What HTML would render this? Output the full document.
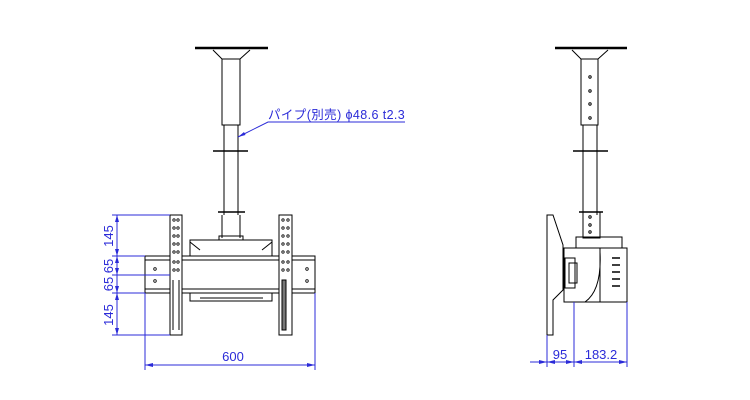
<!DOCTYPE html>
<html><head><meta charset="utf-8"><style>
html,body{margin:0;padding:0;background:#fff}
svg{display:block}
text{font-family:"Liberation Sans","Noto Sans CJK JP",sans-serif;fill:#2b2bd8}
</style></head><body>
<svg width="750" height="400" viewBox="0 0 750 400" xmlns="http://www.w3.org/2000/svg">
<g stroke="#000" fill="none" stroke-width="1">
<line x1="195" y1="48" x2="268" y2="48" stroke-width="2.5"/>
<path d="M213 50 L222 59 L240 59 L250 50" />
<rect x="222" y="59" width="18" height="66" fill="#fff"/>
<line x1="224" y1="125" x2="224" y2="215"/><line x1="238" y1="125" x2="238" y2="215"/>
<line x1="213" y1="151" x2="248" y2="151" stroke-width="1.5"/>
<line x1="218" y1="212" x2="245" y2="212" stroke-width="1.5"/>
<rect x="219" y="236" width="24" height="4"/>
<line x1="222" y1="215" x2="222" y2="238"/><line x1="240" y1="215" x2="240" y2="238"/>
<path d="M190 256 L190 240 L272 240 L272 256"/>
<path d="M190 242 L200 250 M272 242 L262 250"/>
<rect x="145" y="256" width="170" height="37" fill="#fff"/>
<line x1="145" y1="260" x2="315" y2="260"/><line x1="145" y1="289" x2="315" y2="289"/>
<rect x="190" y="293" width="82" height="8"/>
<line x1="200" y1="298" x2="263" y2="298"/>
<rect x="170" y="215" width="12" height="120" fill="#fff"/>
<rect x="279" y="215" width="13" height="120" fill="#fff"/>
<line x1="173" y1="280" x2="173" y2="330"/><line x1="179" y1="280" x2="179" y2="330"/>
<rect x="282" y="280" width="4" height="50" fill="#777"/>
<g stroke-width="0.8">
<circle cx="174" cy="220" r="1.2"/><circle cx="178" cy="220" r="1.2"/>
<circle cx="174" cy="228" r="1.2"/><circle cx="178" cy="228" r="1.2"/>
<circle cx="174" cy="236" r="1.2"/><circle cx="178" cy="236" r="1.2"/>
<circle cx="174" cy="244" r="1.2"/><circle cx="178" cy="244" r="1.2"/>
<circle cx="174" cy="252" r="1.2"/><circle cx="178" cy="252" r="1.2"/>
<circle cx="174" cy="262" r="1.2"/><circle cx="178" cy="262" r="1.2"/>
<circle cx="174" cy="270" r="1.2"/><circle cx="178" cy="270" r="1.2"/>
<circle cx="283" cy="220" r="1.2"/><circle cx="288" cy="220" r="1.2"/>
<circle cx="283" cy="228" r="1.2"/><circle cx="288" cy="228" r="1.2"/>
<circle cx="283" cy="236" r="1.2"/><circle cx="288" cy="236" r="1.2"/>
<circle cx="283" cy="244" r="1.2"/><circle cx="288" cy="244" r="1.2"/>
<circle cx="283" cy="252" r="1.2"/><circle cx="288" cy="252" r="1.2"/>
<circle cx="283" cy="262" r="1.2"/><circle cx="288" cy="262" r="1.2"/>
<circle cx="283" cy="270" r="1.2"/><circle cx="288" cy="270" r="1.2"/>
<circle cx="155" cy="269" r="1.3"/><circle cx="155" cy="281" r="1.3"/>
<circle cx="307" cy="269" r="1.3"/><circle cx="307" cy="281" r="1.3"/>
</g>
<line x1="555" y1="48" x2="627" y2="48" stroke-width="2.5"/>
<path d="M572 50 L581 59 L598 59 L608 50"/>
<rect x="581" y="59" width="17" height="66" fill="#fff"/>
<circle cx="590" cy="77" r="1.2"/><circle cx="590" cy="91" r="1.2"/><circle cx="590" cy="104" r="1.2"/><circle cx="590" cy="118" r="1.2"/>
<line x1="583" y1="125" x2="583" y2="215"/><line x1="597" y1="125" x2="597" y2="215"/>
<line x1="573" y1="151" x2="608" y2="151" stroke-width="1.5"/>
<line x1="579" y1="212" x2="603" y2="212" stroke-width="1.5"/>
<rect x="583" y="212" width="17" height="26"/>
<circle cx="590" cy="217" r="1.2"/><circle cx="590" cy="225" r="1.2"/><circle cx="590" cy="232" r="1.2"/>
<rect x="576" y="237" width="46" height="11"/>
<path d="M564 248 L627 248 L627 302 L564 302 Z" fill="#fff"/>
<path d="M600 248 L600 252 L600 302 M600 252 Q602 290 585 302"/>
<g stroke-width="1.5"><line x1="612" y1="258" x2="620" y2="258"/><line x1="612" y1="265" x2="620" y2="265"/><line x1="612" y1="272" x2="620" y2="272"/><line x1="612" y1="279" x2="620" y2="279"/><line x1="612" y1="286" x2="620" y2="286"/></g>
<rect x="565" y="258" width="10" height="30"/><rect x="569" y="263" width="8" height="20"/>
<path d="M547 215 L553 215 L563 245 L563 290 L553 300 L553 335 L547 335 Z" fill="#fff"/>
</g>
<g stroke="#2b2bd8" fill="none" stroke-width="1">
<line x1="112" y1="215" x2="170" y2="215"/><line x1="112" y1="256" x2="145" y2="256"/>
<line x1="112" y1="275" x2="170" y2="275"/><line x1="112" y1="293" x2="145" y2="293"/>
<line x1="112" y1="335" x2="170" y2="335"/>
<line x1="117" y1="215" x2="117" y2="335"/>
<line x1="145" y1="293" x2="145" y2="370"/><line x1="315" y1="293" x2="315" y2="370"/>
<line x1="145" y1="365" x2="315" y2="365"/>
<line x1="547" y1="335" x2="547" y2="367"/><line x1="574" y1="302" x2="574" y2="367"/><line x1="627" y1="302" x2="627" y2="367"/>
<line x1="530" y1="362" x2="627" y2="362"/>
<path d="M238 137 L268 122 L405 122"/>
</g>
<g fill="#2b2bd8">
<path d="M145 365 l8 -2 v4 z M315 365 l-8 -2 v4 z"/>
<path d="M547 362 l-8 -2 v4 z M547 362 l8 -2 v4 z M574 362 l-8 -2 v4 z M574 362 l8 -2 v4 z M627 362 l-8 -2 v4 z"/>
<path d="M238 137 l6 -5 l1.5 3 z"/>
<path d="M117 215 l-2 7 h4 z M117 256 l-2 -7 h4 z M117 256 l-2 7 h4 z M117 275 l-2 -7 h4 z M117 293 l-2 -7 h4 z M117 293 l-2 7 h4 z M117 335 l-2 -7 h4 z"/>
</g>
<g font-size="13">
<text x="233" y="361" text-anchor="middle">600</text>
<text x="560" y="359" text-anchor="middle">95</text>
<text x="601" y="359" text-anchor="middle">183.2</text>
<text transform="translate(113,236) rotate(-90)" text-anchor="middle">145</text>
<text transform="translate(113,266) rotate(-90)" text-anchor="middle">65</text>
<text transform="translate(113,284) rotate(-90)" text-anchor="middle">65</text>
<text transform="translate(113,315) rotate(-90)" text-anchor="middle">145</text>
</g>
<text x="268" y="119" font-size="12.5" letter-spacing="0.4">パイプ(別売) ϕ48.6 t2.3</text>
</svg>
</body></html>
